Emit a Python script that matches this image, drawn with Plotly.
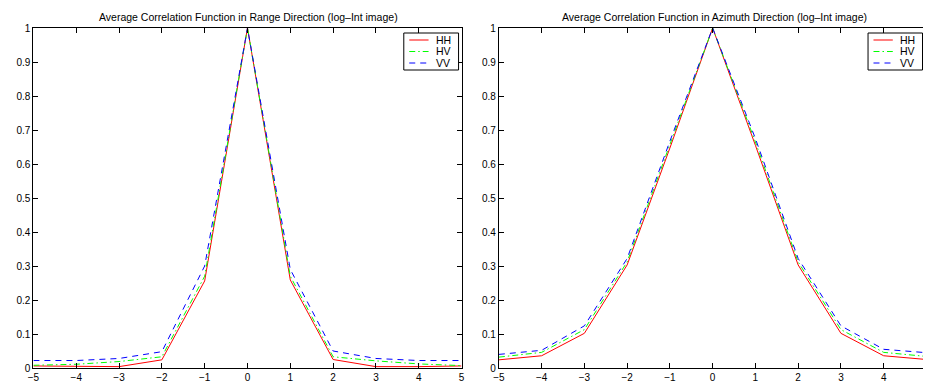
import plotly.graph_objects as go

lags = [-5, -4, -3, -2, -1, 0, 1, 2, 3, 4, 5]

range_hh = [0.006, 0.004, 0.004, 0.024, 0.256, 1.0, 0.259, 0.025, 0.004, 0.004, 0.006]
range_hv = [0.008, 0.011, 0.019, 0.033, 0.27, 1.0, 0.27, 0.033, 0.021, 0.012, 0.007]
range_vv = [0.022, 0.022, 0.028, 0.048, 0.30, 1.0, 0.29, 0.05, 0.028, 0.022, 0.022]

az_hh = [0.024, 0.036, 0.102, 0.303, 0.647, 1.0, 0.655, 0.303, 0.102, 0.036, 0.025]
az_hv = [0.032, 0.046, 0.113, 0.312, 0.657, 1.0, 0.665, 0.312, 0.113, 0.046, 0.034]
az_vv = [0.040, 0.052, 0.124, 0.322, 0.667, 1.0, 0.675, 0.322, 0.124, 0.055, 0.045]

series_names = ["HH", "HV", "VV"]
colors = ["#ff0000", "#00ff00", "#0000ff"]
dashes = ["solid", "6px,3px,1.5px,3px", "6px,5px"]

titles = ["Average Correlation Function in Range Direction (log–Int image)",
          "Average Correlation Function in Azimuth Direction (log–Int image)"]

yticks = [0, 0.1, 0.2, 0.3, 0.4, 0.5, 0.6, 0.7, 0.8, 0.9, 1]
ytick_text = ["0", "0.1", "0.2", "0.3", "0.4", "0.5", "0.6", "0.7", "0.8", "0.9", "1"]
xticks = [-5, -4, -3, -2, -1, 0, 1, 2, 3, 4, 5]

W, H = 926, 383
T, B = 28, 15
FONT = "Liberation Sans, Arial, Helvetica, sans-serif"
TFONT = "Liberation Sans Narrow, Arial Narrow, Liberation Sans, sans-serif"


def px(x):
    return x / W


def py(y):
    return (H - B - y) / (H - T - B)


fig = go.Figure()

panels = [(range_hh, range_hv, range_vv), (az_hh, az_hv, az_vv)]
for p, data in enumerate(panels):
    xa = "x" if p == 0 else "x2"
    ya = "y" if p == 0 else "y2"
    for name, vals, c, d in zip(series_names, data, colors, dashes):
        fig.add_trace(go.Scatter(x=lags, y=vals, mode="lines", name=name,
                                 line=dict(color=c, width=1, dash=d),
                                 xaxis=xa, yaxis=ya, showlegend=False))

dom1 = [px(27.7), px(460)]
dom2 = [px(497.7), 1.0]

axis_common = dict(showgrid=False, zeroline=False, showline=True, linecolor="black",
                   linewidth=1, ticks="inside", ticklen=5, tickcolor="black",
                   tickfont=dict(family=FONT, size=10, color="black"))

fig.update_layout(
    width=W, height=H,
    margin=dict(l=0, r=0, t=T, b=B),
    paper_bgcolor="white", plot_bgcolor="white",
    font=dict(family=FONT, size=10, color="black"),
    xaxis=dict(domain=dom1, range=[-5, 5], tickvals=xticks, mirror="ticks", anchor="y", **axis_common),
    yaxis=dict(domain=[0, 1], range=[0, 1], tickvals=yticks, ticktext=ytick_text, mirror="ticks", anchor="x", **axis_common),
    xaxis2=dict(domain=dom2, range=[-5, 4.92], tickvals=xticks, mirror="ticks", anchor="y2", **axis_common),
    yaxis2=dict(domain=[0, 1], range=[0, 1], tickvals=yticks, ticktext=ytick_text, mirror=False, anchor="x2", **axis_common),
    showlegend=False,
)

# titles
for t, cx in zip(titles, [245, 715]):
    fig.add_annotation(text=t, x=px(cx), xref="paper", y=py(17), yref="paper",
                       yanchor="middle", xanchor="center", showarrow=False,
                       font=dict(family=TFONT, size=10.5, color="black"))

# custom legends (box, line samples, labels)
legend_boxes = [(401.7, 457), (870.5, 925.5)]
entry_y = [40, 51.5, 63]
for (lx0, lx1) in legend_boxes:
    fig.add_shape(type="rect", xref="paper", yref="paper",
                  x0=px(lx0), x1=px(lx1), y0=py(33), y1=py(70),
                  line=dict(color="black", width=1), fillcolor="white", layer="above")
    for name, c, d, ey in zip(series_names, colors, dashes, entry_y):
        fig.add_shape(type="line", xref="paper", yref="paper",
                      x0=px(lx0 + 5.5), x1=px(lx0 + 25), y0=py(ey), y1=py(ey),
                      line=dict(color=c, width=1, dash=d), layer="above")
        fig.add_annotation(text=name, x=px(lx0 + 30), y=py(ey), xref="paper", yref="paper",
                           xanchor="left", yanchor="middle", showarrow=False,
                           font=dict(family=FONT, size=10.5, color="black"))

fig.write_html("out.html")
